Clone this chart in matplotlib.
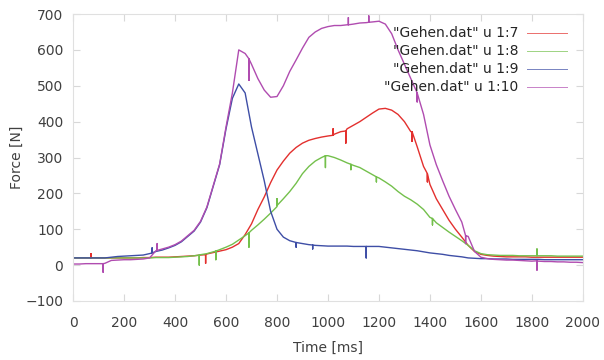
import numpy as np
import matplotlib
matplotlib.use("Agg")
import matplotlib.pyplot as plt

# time axis, 25 ms steps
t = np.arange(0, 2001, 25)

# "Gehen.dat" u 1:7
col7 = [20, 20, 20, 20, 20, 20, 20, 20, 20, 20, 20, 21, 21, 22, 22, 22,
        23, 24, 25, 26, 28, 31, 35, 39, 43, 50, 60, 85, 115, 155, 190, 230,
        265, 290, 312, 328, 340, 348, 353, 357, 360, 365, 372, 380, 390, 400,
        412, 424, 435, 437, 432, 420, 400, 372, 330, 275, 225, 185, 155, 125,
        100, 78, 55, 38, 30, 27, 25, 24, 23, 23, 23, 23, 22, 22, 22, 22,
        22, 22, 22, 22, 22]
# "Gehen.dat" u 1:8
col8 = [20, 20, 20, 20, 20, 20, 20, 20, 20, 20, 20, 20, 20, 21, 21, 21,
        22, 23, 24, 26, 29, 32, 37, 43, 50, 58, 70, 82, 97, 112, 128, 145,
        163, 185, 205, 228, 255, 275, 290, 300, 305, 300, 293, 285, 278, 272,
        262, 252, 243, 232, 220, 205, 192, 182, 170, 155, 133, 118, 105, 92,
        80, 68, 55, 40, 32, 29, 28, 27, 27, 27, 26, 26, 26, 26, 26, 26,
        25, 25, 25, 25, 25]
# "Gehen.dat" u 1:9
col9 = [20, 20, 20, 20, 20, 20, 22, 24, 25, 26, 27, 28, 32, 38, 42, 48,
        55, 65, 80, 95, 120, 160, 220, 280, 380, 465, 505, 480, 385, 310, 235, 150,
        100, 78, 68, 63, 60, 57, 55, 54, 53, 53, 53, 53, 52, 52,
        52, 52, 52, 50, 48, 46, 44, 42, 40, 37, 34, 32, 30, 27, 25, 23, 20, 19, 18, 18,
        17, 17, 17, 16, 16, 16, 16, 16, 15, 15, 15, 15, 15, 15, 15]
# "Gehen.dat" u 1:10
col10 = [3, 3, 4, 4, 4, 5, 13, 14, 15, 15, 16, 17, 20, 40, 45, 50,
         57, 67, 82, 97, 122, 162, 222, 282, 385, 480, 600, 590, 560, 520, 488, 468,
         470, 500, 540, 572, 605, 635, 650, 660, 665, 668, 668, 670, 672, 675,
         676, 678, 680, 672, 645, 600, 560, 520, 480, 420, 335, 280, 235, 192,
         155, 120, 80, 38, 22, 18, 16, 15, 14, 14, 13, 12, 11, 11, 10, 10,
         9, 9, 8, 8, 7]

# single-sample spikes in the recordings: time, level around it, spike tip
spk7_t = [70, 520, 1020, 1070, 1330, 1390]
spk7_base = [20, 29, 362, 374, 372, 255]
spk7_tip = [32, 5, 380, 340, 345, 232]
spk8_t = [495, 560, 690, 800, 990, 1090, 1190, 1410, 1820]
spk8_base = [28, 39, 90, 166, 305, 281, 246, 130, 26]
spk8_tip = [0, 15, 50, 185, 272, 266, 232, 112, 45]
spk9_t = [310, 875, 940, 1150]
spk9_base = [34, 63, 56, 52]
spk9_tip = [48, 50, 45, 20]
spk10_t = [118, 330, 690, 1080, 1160, 1350, 1540, 1820]
spk10_base = [4, 41, 575, 670, 677, 480, 82, 12]
spk10_tip = [-20, 60, 515, 690, 695, 455, 60, -14]

labels = ['"Gehen.dat" u 1:7', '"Gehen.dat" u 1:8', '"Gehen.dat" u 1:9', '"Gehen.dat" u 1:10']
colors = ["#e3302e", "#74c04c", "#3e4ea6", "#b04cb0"]
series = [(col7, spk7_t, spk7_base, spk7_tip),
          (col8, spk8_t, spk8_base, spk8_tip),
          (col9, spk9_t, spk9_base, spk9_tip),
          (col10, spk10_t, spk10_base, spk10_tip)]


def with_spikes(y, st, sb, sp):
    # put each spike in as base -> tip -> base at the same time
    tt = np.concatenate([t, np.repeat(st, 3)])
    yy = np.concatenate([y, np.column_stack([sb, sp, sb]).ravel()])
    order = np.argsort(tt, kind="stable")
    return tt[order], yy[order]


fig = plt.figure(figsize=(6.04, 3.6), dpi=100)
ax = fig.add_axes([0.121, 0.164, 0.844, 0.797])

for (y, st, sb, sp), c in zip(series, colors):
    xs, ys = with_spikes(np.array(y), np.array(st), np.array(sb), np.array(sp))
    ax.plot(xs, ys, color=c, linewidth=1.0)

ax.set_xlim(0, 2000)
ax.set_ylim(-100, 700)
ax.set_xticks(np.arange(0, 2001, 200))
ax.set_yticks(np.arange(-100, 701, 100))
ax.tick_params(direction="in", length=5, color="#d8d8d8", labelcolor="#404040",
               labelsize=10, top=True, right=True)
ax.tick_params(axis="x", pad=11)
ax.tick_params(axis="y", pad=7)
for s in ax.spines.values():
    s.set_color("#e0e0e0")
    s.set_linewidth(0.8)
ax.set_xlabel("Time [ms]", color="#404040", fontsize=10, labelpad=8)
ax.set_ylabel("Force [N]", color="#404040", fontsize=10, labelpad=1)

# legend, gnuplot style: text right aligned, sample line after it
for i, (lab, c) in enumerate(zip(labels, colors)):
    yy = 0.935 - i * 0.063
    ax.text(0.874, yy, lab, transform=ax.transAxes, ha="right", va="center",
            fontsize=10, color="#252525")
    ax.plot([0.890, 0.969], [yy, yy], transform=ax.transAxes, color=c, linewidth=0.7, alpha=0.7)

plt.savefig("out.png", dpi=100)
